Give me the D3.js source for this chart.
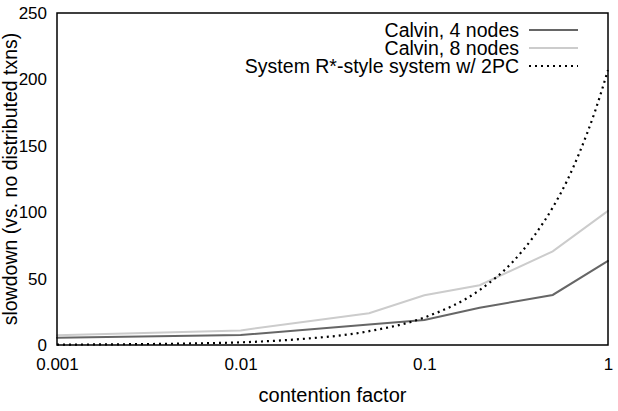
<!DOCTYPE html>
<html>
<head>
<meta charset="utf-8">
<script src="https://cdn.jsdelivr.net/npm/d3@7"></script>
<style>
  body { margin: 0; background: #fff; }
  svg text { font-family: "Liberation Sans", Arial, sans-serif; fill: #000; }
</style>
</head>
<body>
<svg id="chart" width="618" height="411"></svg>
<script>
// values
const contention = [0.001, 0.01, 0.05, 0.1, 0.2, 0.5, 1]
const calvin4 = [5.5, 7.5, 15.5, 18.8, 28, 37.7, 63.3]
const calvin8 = [7.3, 11, 23.9, 37.4, 45, 70.5, 101]
const twoPcX = [0.001, 0.002, 0.005, 0.01, 0.02, 0.05, 0.1, 0.2, 0.3, 0.4, 0.5, 0.6, 0.7, 0.85, 1]
const twoPcY = [0.3, 0.5, 1.1, 2, 4.2, 10.4, 20.7, 41.4, 62, 83, 103.5, 124, 145, 176, 207]
const xTicks = [0.001, 0.01, 0.1, 1]
const yTicks = [0, 50, 100, 150, 200, 250]

const series = [
    { name: "Calvin, 4 nodes", xs: contention, ys: calvin4, color: "#666666", dash: null },
    { name: "Calvin, 8 nodes", xs: contention, ys: calvin8, color: "#cccccc", dash: null },
    { name: "System R*-style system w/ 2PC", xs: twoPcX, ys: twoPcY, color: "#000000", dash: "2,4" }
]

const tickSize = 17
const labelSize = 19.5
const svg = d3.select("#chart")
const margin = { left: 57, right: 10, top: 13, bottom: 66 }
const width = +svg.attr("width"), height = +svg.attr("height")

const x = d3.scaleLog().domain([0.001, 1]).range([margin.left, width - margin.right])
const y = d3.scaleLinear().domain([0, 250]).range([height - margin.bottom, margin.top])

// axes without tick marks, only labels
const xAxis = svg.append("g")
    .attr("transform", "translate(0," + (height - margin.bottom) + ")")
    .call(d3.axisBottom(x).tickValues(xTicks).tickSize(0).tickPadding(13).tickFormat(d3.format("")))
xAxis.select(".domain").remove()
xAxis.selectAll("text").attr("font-size", tickSize)

const yAxis = svg.append("g")
    .attr("transform", "translate(" + margin.left + ",0)")
    .call(d3.axisLeft(y).tickValues(yTicks).tickSize(0).tickPadding(10))
yAxis.select(".domain").remove()
yAxis.selectAll("text").attr("font-size", tickSize)

// lines (the 2PC curve is smooth in the original)
series.forEach(s => {
    const line = d3.line()
        .x(d => x(d[0]))
        .y(d => y(d[1]))
        .curve(s.dash ? d3.curveMonotoneX : d3.curveLinear)
    svg.append("path")
        .datum(s.xs.map((v, i) => [v, s.ys[i]]))
        .attr("d", line)
        .attr("fill", "none")
        .attr("stroke", s.color)
        .attr("stroke-width", s.dash ? 2.2 : 2)
        .attr("stroke-dasharray", s.dash)
        .attr("stroke-linecap", s.dash ? "butt" : "round")
})

// frame
svg.append("rect")
    .attr("x", margin.left)
    .attr("y", margin.top)
    .attr("width", width - margin.left - margin.right)
    .attr("height", height - margin.top - margin.bottom)
    .attr("fill", "none")
    .attr("stroke", "#000")
    .attr("stroke-width", 1.5)

// legend
const legend = svg.append("g")
series.forEach((s, i) => {
    const ly = 30 + i * 18
    legend.append("text")
        .attr("x", 519)
        .attr("y", ly)
        .attr("dy", "0.35em")
        .attr("text-anchor", "end")
        .attr("font-size", labelSize)
        .text(s.name)
    legend.append("line")
        .attr("x1", 529).attr("x2", 578)
        .attr("y1", ly).attr("y2", ly)
        .attr("stroke", s.color)
        .attr("stroke-width", s.dash ? 2.2 : 2)
        .attr("stroke-dasharray", s.dash)
})

// axis titles
svg.append("text")
    .attr("x", (margin.left + width - margin.right) / 2)
    .attr("y", 402)
    .attr("text-anchor", "middle")
    .attr("font-size", 20)
    .text("contention factor")

svg.append("text")
    .attr("transform", "translate(10," + ((margin.top + height - margin.bottom) / 2) + ") rotate(-90)")
    .attr("dy", "0.35em")
    .attr("text-anchor", "middle")
    .attr("font-size", 19.5)
    .text("slowdown (vs. no distributed txns)")
</script>
</body>
</html>
